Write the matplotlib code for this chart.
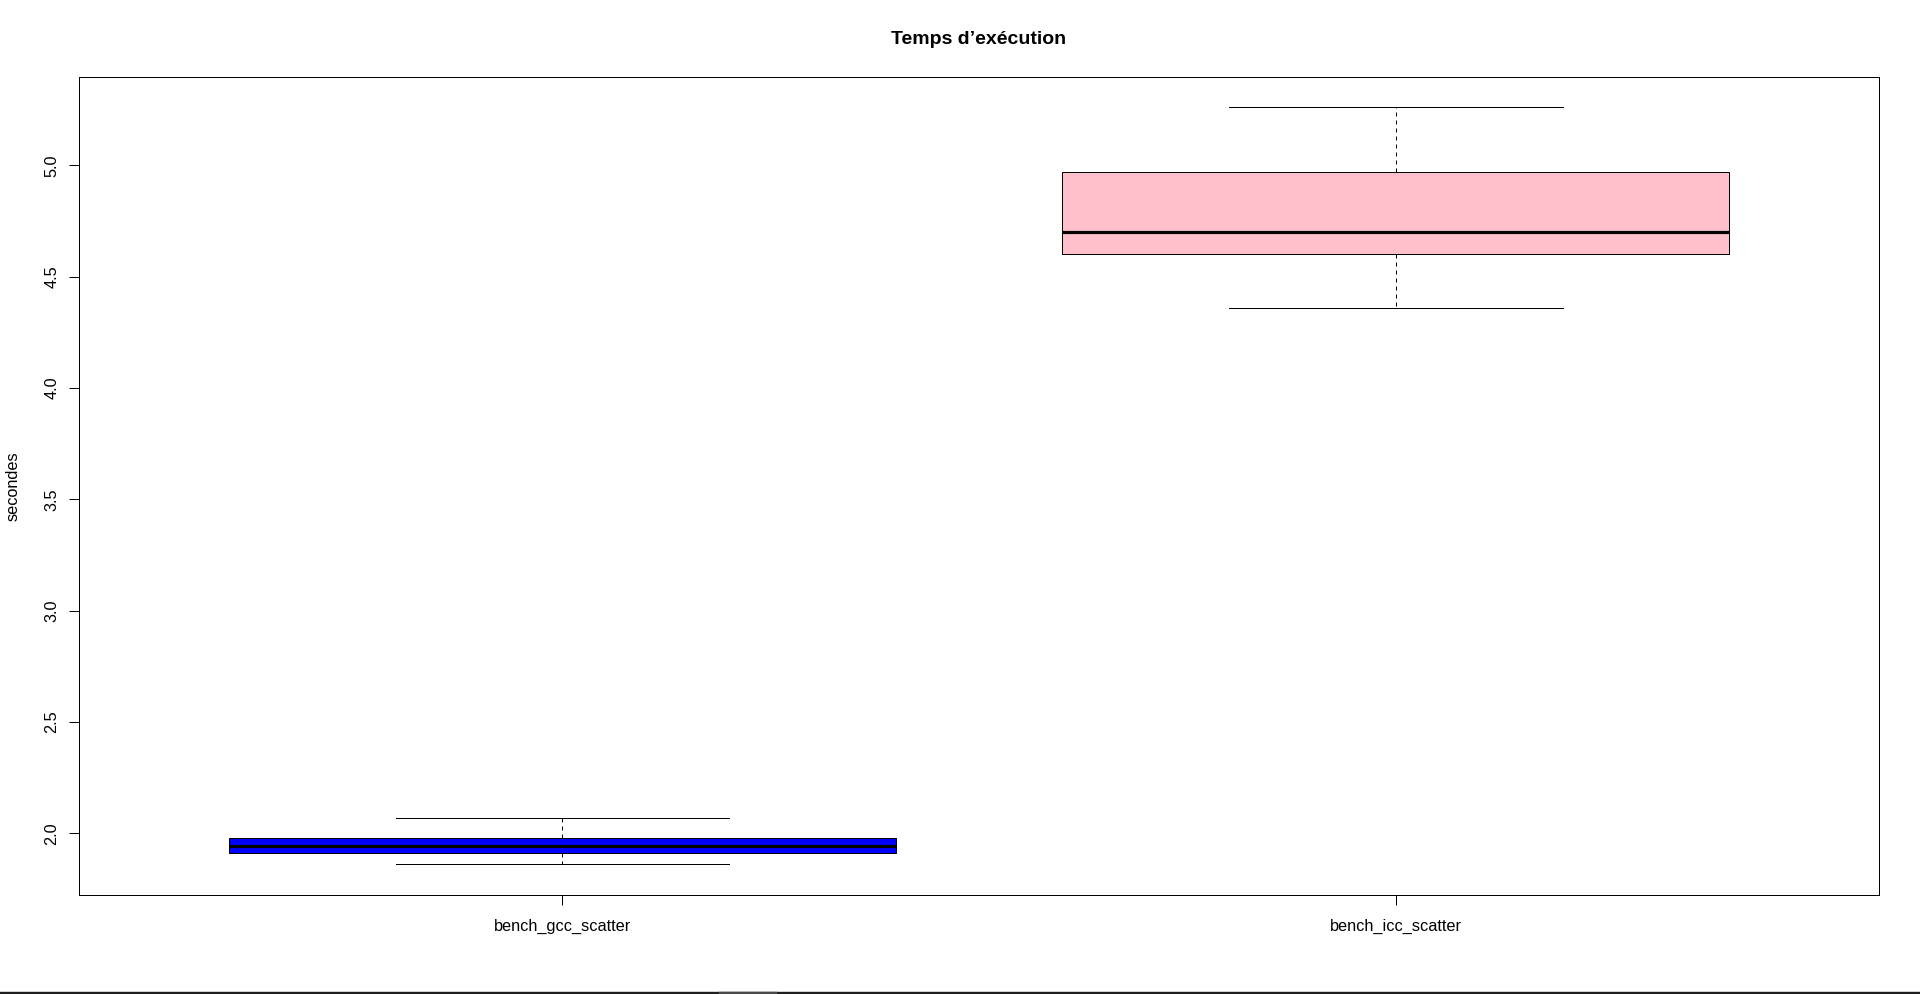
import matplotlib
matplotlib.use("Agg")
import matplotlib.pyplot as plt
from matplotlib.lines import Line2D
from matplotlib.ticker import FormatStrFormatter

plt.rcParams['font.family'] = ['Liberation Sans', 'DejaVu Sans']

# ---- data ----
categories = ["bench_gcc_scatter", "bench_icc_scatter"]
whislo = [1.861, 4.360]
q1 = [1.910, 4.602]
med = [1.942, 4.699]
q3 = [1.980, 4.970]
whishi = [2.070, 5.262]
box_colors = ["blue", "pink"]
yticks = [2.0, 2.5, 3.0, 3.5, 4.0, 4.5, 5.0]
title = "Temps d\u2019exécution"
ylabel = "secondes"

W, H = 1920, 994
DPI = 100
fig = plt.figure(figsize=(W / DPI, H / DPI), dpi=DPI)
left, right, top, bottom = 79, 1879.3, 76.6, 894.7
ax = fig.add_axes([left / W, 1 - bottom / H, (right - left) / W, (bottom - top) / H])

stats = []
for i, name in enumerate(categories):
    stats.append(dict(label=name, whislo=whislo[i], q1=q1[i], med=med[i],
                      q3=q3[i], whishi=whishi[i], fliers=[]))

px = 72 / DPI  # points per pixel
bp = ax.bxp(stats, positions=[1, 2], widths=0.8, capwidths=0.4,
            patch_artist=True, showfliers=False,
            boxprops=dict(edgecolor="black", linewidth=1.0 * px),
            medianprops=dict(color="black", linewidth=3.2 * px, solid_capstyle="butt"),
            whiskerprops=dict(color="black", linewidth=1.0 * px, linestyle=(0, (4, 4))),
            capprops=dict(color="black", linewidth=1.0 * px))
for patch, c in zip(bp["boxes"], box_colors):
    patch.set_facecolor(c)

lo = min(whislo)
hi = max(whishi)
r = hi - lo
ax.set_ylim(lo - 0.04 * r, hi + 0.04 * r)
ax.set_xlim(0.42, 2.58)

ax.set_yticks(yticks)
ax.yaxis.set_major_formatter(FormatStrFormatter("%.1f"))
ax.set_xticks([1, 2])
ax.set_xticklabels(categories)

fs = 16.3 * px
ax.tick_params(axis="both", direction="out", length=9.6 * px, width=1.0 * px,
               labelsize=fs, colors="black")
ax.tick_params(axis="x", pad=15 * px)
ax.tick_params(axis="y", pad=10 * px)
for lab in ax.get_yticklabels():
    lab.set_rotation(90)
    lab.set_va("center")

for s in ax.spines.values():
    s.set_linewidth(1.0 * px)
    s.set_color("black")

fig.text(979 / W, 1 - 39.5 / H, title, ha="center", va="center",
         fontsize=19.5 * px, fontweight="bold")
fig.text(13 / W, 1 - 486 / H, ylabel, ha="center", va="center",
         rotation=90, fontsize=fs)

# thin dark strip along the bottom edge of the image
fig.add_artist(Line2D([0, 1], [1.2 / H, 1.2 / H], transform=fig.transFigure,
                      color="#1e1e1e", linewidth=2.4 * px))
fig.add_artist(Line2D([720 / W, 776 / W], [1.2 / H, 1.2 / H], transform=fig.transFigure,
                      color="#4a4a4a", linewidth=2.4 * px))

fig.savefig("out.png", dpi=DPI)
